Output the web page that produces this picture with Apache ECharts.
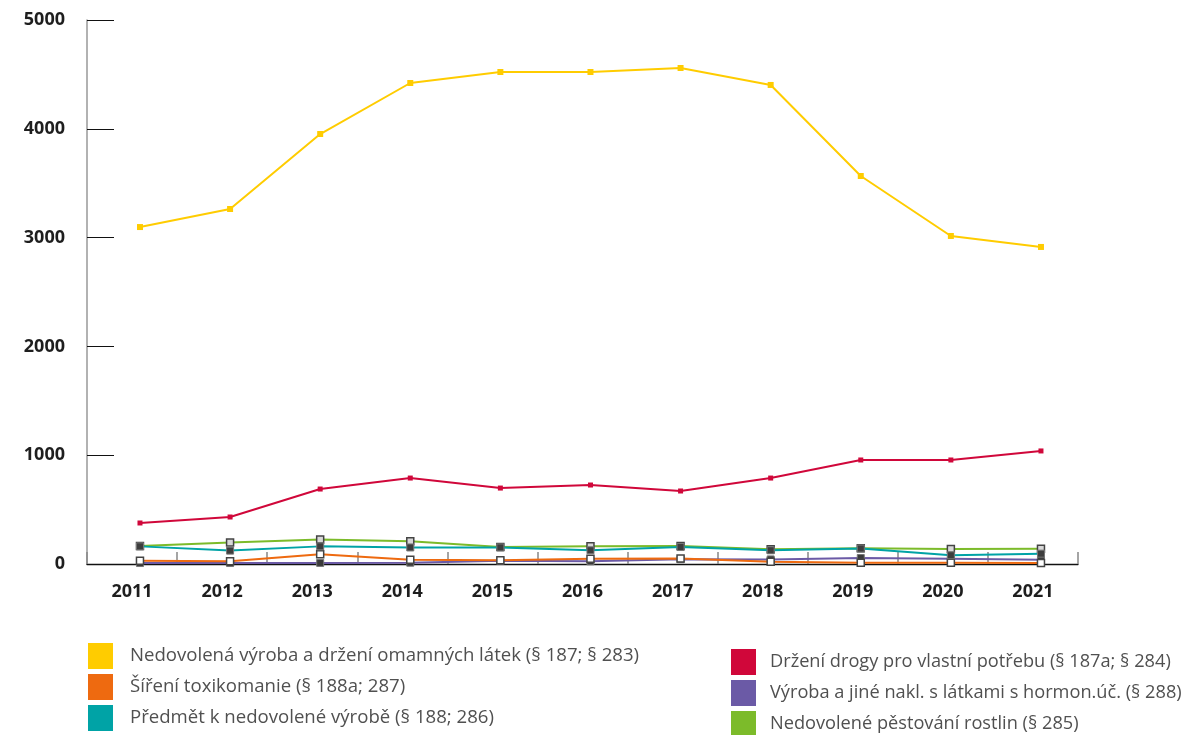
<!DOCTYPE html>
<html>
<head>
<meta charset="utf-8">
<script src="https://cdn.jsdelivr.net/npm/echarts@6/dist/echarts.min.js"></script>
<style>
    html, body { margin: 0; padding: 0; background: #fff; }
    #chart { width: 1192px; height: 735px; }
</style>
</head>
<body>
<div id="chart"></div>
<script>
// 数据
const years      = [2011, 2012, 2013, 2014, 2015, 2016, 2017, 2018, 2019, 2020, 2021];
const yTicks     = [0, 1000, 2000, 3000, 4000, 5000];

const omamne     = [3097, 3263, 3952, 4421, 4522, 4522, 4559, 4403, 3566, 3015, 2914];  // § 187; § 283
const drzeni     = [377, 432, 689, 790, 698, 726, 671, 790, 956, 956, 1039];            // § 187a; § 284
const sireni     = [31, 25, 89, 40, 34, 49, 50, 21, 12, 12, 9];                          // § 188a; 287
const hormon     = [9, 9, 10, 12, 30, 25, 44, 42, 55, 49, 40];                           // § 288
const predmet    = [162, 123, 162, 152, 152, 126, 156, 126, 142, 80, 95];                // § 188; 286
const pestovani  = [165, 198, 226, 208, 156, 162, 165, 135, 144, 138, 141];              // § 285

const names = {
    omamne:    'Nedovolená výroba a držení omamných látek (§ 187; § 283)',
    sireni:    'Šíření toxikomanie (§ 188a; 287)',
    predmet:   'Předmět k nedovolené výrobě (§ 188; 286)',
    drzeni:    'Držení drogy pro vlastní potřebu (§ 187a; § 284)',
    hormon:    'Výroba a jiné nakl. s látkami s hormon.úč. (§ 288)',
    pestovani: 'Nedovolené pěstování rostlin (§ 285)'
};
const colors = {
    omamne: '#ffcc00', sireni: '#ee6a10', predmet: '#00a3a6',
    drzeni: '#d0073a', hormon: '#6b5aa6', pestovani: '#7cbb2a'
};

const font = '"Open Sans", "Noto Sans", sans-serif';

// 把年份和数值组合成点
function pairs(arr) {
    return arr.map((v, i) => [years[i], v]);
}

function lineSeries(key, data, marker) {
    return {
        name: names[key],
        type: 'line',
        xAxisIndex: 1,
        data: pairs(data),
        symbol: 'rect',
        symbolSize: marker.size,
        lineStyle: { color: colors[key], width: 2 },
        itemStyle: {
            color: marker.fill,
            borderColor: marker.border,
            borderWidth: marker.borderWidth
        },
        emphasis: { disabled: true },
        z: marker.z
    };
}

function legendBlock(keys, left, top, fontSize, gap) {
    return {
        orient: 'vertical',
        left: left,
        top: top,
        padding: 0,
        height: 100,
        icon: 'rect',
        itemWidth: 25,
        itemHeight: 26,
        itemGap: 5,
        selectedMode: false,
        textStyle: {
            fontFamily: font,
            fontSize: fontSize,
            color: '#505050',
            padding: [3, 0, 0, gap]
        },
        data: keys.map(k => ({
            name: names[k],
            itemStyle: { color: colors[k], borderWidth: 0 }
        }))
    };
}

let chart = echarts.init(document.getElementById('chart'));
let option = {
    animation: false,
    grid: { left: 87, right: 114, top: 20, bottom: 171, containLabel: false },
    legend: [
        legendBlock(['omamne', 'sireni', 'predmet'], 88, 643, 18.6, 12),
        legendBlock(['drzeni', 'hormon', 'pestovani'], 731, 649, 18.2, 9)
    ],
    xAxis: [
        {
            type: 'category',
            data: years.map(String),
            boundaryGap: true,
            axisLine: { lineStyle: { color: '#111', width: 1.3 } },
            axisTick: { show: true, inside: true, length: 12, lineStyle: { color: '#888', width: 1.5 } },
            axisLabel: {
                margin: 19,
                fontFamily: font,
                fontSize: 18,
                fontWeight: 'bold',
                color: '#1e1e1e'
            },
            splitLine: { show: false }
        },
        {
            // 数据点所用的隐藏轴
            type: 'value',
            show: false,
            min: 2010.412,
            max: 2021.411
        }
    ],
    yAxis: {
        type: 'value',
        min: 0,
        max: 5000,
        interval: 1000,
        axisLine: { show: true, lineStyle: { color: '#999', width: 1.5 } },
        axisTick: { show: true, inside: true, length: 27, lineStyle: { color: '#111', width: 1 } },
        axisLabel: {
            margin: 22,
            fontFamily: font,
            fontSize: 18,
            fontWeight: 'bold',
            color: '#1e1e1e',
            formatter: v => yTicks.includes(v) ? String(v) : ''
        },
        splitLine: { show: false }
    },
    series: [
        lineSeries('hormon',    hormon,    { size: 7, fill: '#3a3a3a', border: '#777', borderWidth: 1, z: 2 }),
        lineSeries('sireni',    sireni,    { size: 7, fill: '#ffffff', border: '#444', borderWidth: 1.5, z: 3 }),
        lineSeries('predmet',   predmet,   { size: 7, fill: '#3d3d3d', border: '#777', borderWidth: 1, z: 4 }),
        lineSeries('pestovani', pestovani, { size: 7, fill: '#d8d8d8', border: '#444', borderWidth: 1.5, z: 3 }),
        lineSeries('drzeni',    drzeni,    { size: 5, fill: colors.drzeni, border: colors.drzeni, borderWidth: 0, z: 5 }),
        lineSeries('omamne',    omamne,    { size: 6, fill: colors.omamne, border: colors.omamne, borderWidth: 0, z: 5 })
    ]
};
chart.setOption(option);
</script>
</body>
</html>
